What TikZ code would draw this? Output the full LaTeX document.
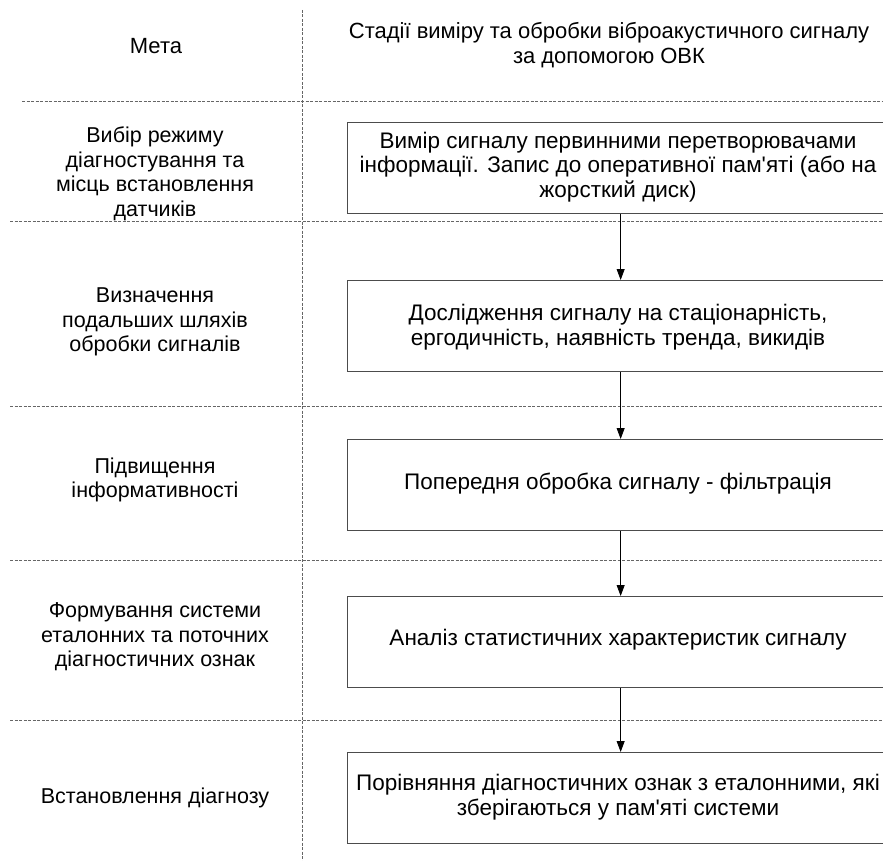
\documentclass[tikz,border=0pt]{standalone}
\usepackage{fontspec}
\setmainfont{Liberation Sans}[Ligatures=TeXOff]
\usetikzlibrary{arrows.meta}
\tikzset{
  sep/.style={draw=black!60, line width=0.8pt, dash pattern=on 3pt off 1.5pt},
  stage/.style={draw=black!70, line width=1.3pt, minimum width=546pt, minimum height=91pt,
    inner sep=0pt, anchor=north west},
  txt/.style={align=center, font=\fontsize{21.5}{24.5}\selectfont, inner sep=0pt},
  head/.style={txt, font=\fontsize{22}{24.5}\selectfont},
  boxtxt/.style={txt, font=\fontsize{22.5}{24.5}\selectfont},
  flow/.style={draw=black, line width=0.8pt, -{Triangle[length=11pt,width=8pt]}},
}
\begin{document}
\begin{tikzpicture}[x=1pt,y=-1pt]
\useasboundingbox (0,0) rectangle (883,861);
% column separator and row separators
\draw[sep] (302,10) -- (302,861);
\draw[sep] (22,101) -- (883,101);
\draw[sep] (10,221) -- (883,221);
\draw[sep] (10,406) -- (883,406);
\draw[sep] (10,560) -- (883,560);
\draw[sep] (10,720) -- (883,720);
% headers
\node[head] (h1) at (156,46) {Мета};
\node[head] (h2) at (609,45) {Стадії виміру та обробки віброакустичного сигналу\\за допомогою ОВК};
% goals
\node[txt] (g1) at (155,174) {Вибір режиму\\діагностування та\\місць встановлення\\датчиків};
\node[txt] (g2) at (155,322) {Визначення\\подальших шляхів\\обробки сигналів};
\node[txt] (g3) at (155,480) {Підвищення\\інформативності};
\node[txt] (g4) at (155,637) {Формування системи\\еталонних та поточних\\діагностичних ознак};
\node[txt] (g5) at (155,798) {Встановлення діагнозу};
% stages
\node[stage] (s1) at (347,122) {};
\node[stage] (s2) at (347,280) {};
\node[stage] (s3) at (347,439) {};
\node[stage] (s4) at (347,596) {};
\node[stage] (s5) at (347,752) {};
\node[boxtxt] (t1) at (618,167) {Вимір сигналу первинними перетворювачами\\інформації. Запис до оперативної пам'яті (або на\\жорсткий диск)};
\node[boxtxt] (t2) at (618,327) {Дослідження сигналу на стаціонарність,\\ергодичність, наявність тренда, викидів};
\node[boxtxt] (t3) at (618,484) {Попередня обробка сигналу - фільтрація};
\node[boxtxt] (t4) at (618,640) {Аналіз статистичних характеристик сигналу};
\node[boxtxt] (t5) at (618,797) {Порівняння діагностичних ознак з еталонними, які\\зберігаються у пам'яті системи};
% flow between stages
\draw[flow] (s1.south) -- (s2.north);
\draw[flow] (s2.south) -- (s3.north);
\draw[flow] (s3.south) -- (s4.north);
\draw[flow] (s4.south) -- (s5.north);
\end{tikzpicture}
\end{document}
